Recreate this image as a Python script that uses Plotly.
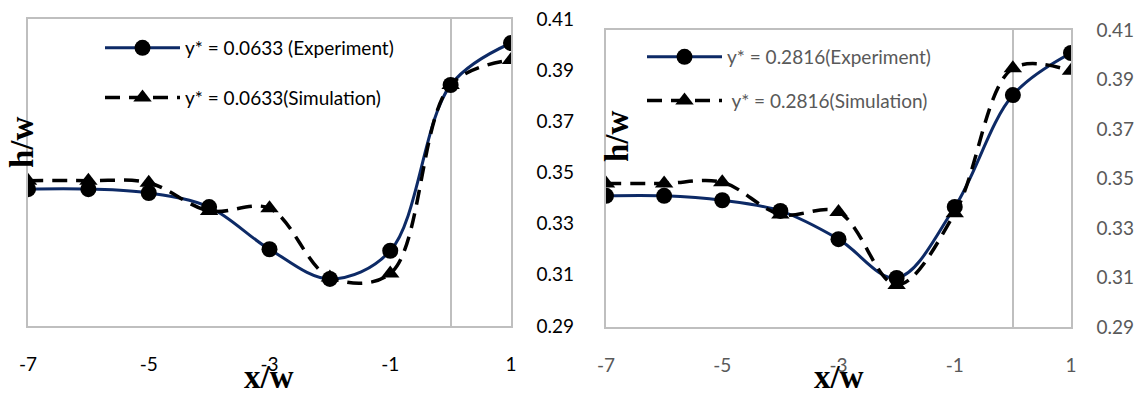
import plotly.graph_objects as go

x_pos = [-7, -6, -5, -4, -3, -2, -1, 0, 1]

# Left panel: y* = 0.0633
exp_left = [0.3435, 0.3435, 0.3420, 0.3365, 0.3200, 0.3084, 0.3194, 0.3842, 0.4006]
sim_left = [0.3468, 0.3468, 0.3460, 0.3350, 0.3360, 0.3090, 0.3105, 0.3842, 0.3940]

# Right panel: y* = 0.2816
exp_right = [0.3430, 0.3430, 0.3412, 0.3369, 0.3255, 0.3098, 0.3385, 0.3837, 0.4007]
sim_right = [0.3480, 0.3480, 0.3485, 0.3355, 0.3365, 0.3070, 0.3360, 0.3945, 0.3935]

names_left = ["y* = 0.0633 (Experiment)", "y* = 0.0633(Simulation)"]
names_right = ["y* = 0.2816(Experiment)", " y* = 0.2816(Simulation)"]

y_ticks = [0.29, 0.31, 0.33, 0.35, 0.37, 0.39, 0.41]
x_ticks = [-7, -5, -3, -1, 1]
x_ticktext = ["-7", "-5", "-3", "-1", "1"]

W, H = 1140, 396
NAVY = "#0D2A66"
GRID = "#BFBFBF"
FONT = "Lato"

fig = go.Figure()

def add_panel(xa, ya, exp, sim, names, legend_id):
    fig.add_trace(go.Scatter(
        x=x_pos, y=exp, xaxis=xa, yaxis=ya, name=names[0],
        mode="lines+markers", line=dict(color=NAVY, width=3, shape="spline", smoothing=1),
        marker=dict(symbol="circle", size=16, color="black"),
        legend=legend_id, legendgroup=legend_id + "a"))
    fig.add_trace(go.Scatter(
        x=x_pos, y=sim, xaxis=xa, yaxis=ya, name=names[1],
        mode="lines+markers",
        line=dict(color="black", width=3.5, dash="15px,9px", shape="spline", smoothing=1),
        marker=dict(symbol="triangle-up", size=16, color="black"),
        legend=legend_id, legendgroup=legend_id + "b"))

add_panel("x", "y", exp_left, sim_left, names_left, "legend")
add_panel("x2", "y2", exp_right, sim_right, names_right, "legend2")

def xaxis(dom, anchor, col):
    return dict(domain=dom, anchor=anchor, range=[-7, 1], tickvals=x_ticks,
                ticktext=x_ticktext, automargin=False,
                showgrid=False, zeroline=True, zerolinecolor=GRID, zerolinewidth=1.5,
                showline=True, mirror=True, linecolor=GRID, linewidth=1.5,
                ticks="", ticklabelstandoff=20,
                tickfont=dict(family=FONT, size=19, color=col))

def yaxis(dom, anchor, col):
    return dict(domain=dom, anchor=anchor, range=[0.29, 0.41], tickvals=y_ticks,
                tickformat=".2f", side="right", showgrid=False, zeroline=False,
                automargin=False,
                showline=True, mirror=True, linecolor=GRID, linewidth=1.5,
                ticks="", ticklabelstandoff=20,
                tickfont=dict(family=FONT, size=19, color=col))

fig.update_layout(
    width=W, height=H, margin=dict(l=0, r=0, t=0, b=0, autoexpand=False),
    paper_bgcolor="white", plot_bgcolor="white",
    xaxis=xaxis([28 / W, 511 / W], "y", "black"),
    yaxis=yaxis([1 - 326 / H, 1 - 19 / H], "x", "black"),
    xaxis2=xaxis([606 / W, 1071 / W], "y2", "#595959"),
    yaxis2=yaxis([1 - 327 / H, 1 - 30 / H], "x2", "#595959"),
    legend=dict(x=100 / W, y=1 - 29 / H, xanchor="left", yanchor="top",
                bgcolor="rgba(0,0,0,0)", traceorder="grouped", tracegroupgap=22,
                itemwidth=75,
                font=dict(family=FONT, size=19, color="black")),
    legend2=dict(x=642 / W, y=1 - 38 / H, xanchor="left", yanchor="top",
                 bgcolor="rgba(0,0,0,0)", traceorder="grouped", tracegroupgap=16,
                 itemwidth=75,
                 font=dict(family=FONT, size=19, color="#595959")),
    showlegend=True,
)

title_font = dict(family="Liberation Serif", size=33, color="black")
annots = [
    dict(text="<b>x/w</b>", x=269 / W, y=1 - 377 / H, textangle=0),
    dict(text="<b>x/w</b>", x=839 / W, y=1 - 377 / H, textangle=0),
    dict(text="<b>h/w</b>", x=22 / W, y=1 - 142 / H, textangle=-90),
    dict(text="<b>h/w</b>", x=617 / W, y=1 - 136 / H, textangle=-90),
]
for a in annots:
    fig.add_annotation(xref="paper", yref="paper", showarrow=False, borderpad=0,
                       xanchor="center", yanchor="middle", font=title_font, **a)

fig.write_html("out.html")
